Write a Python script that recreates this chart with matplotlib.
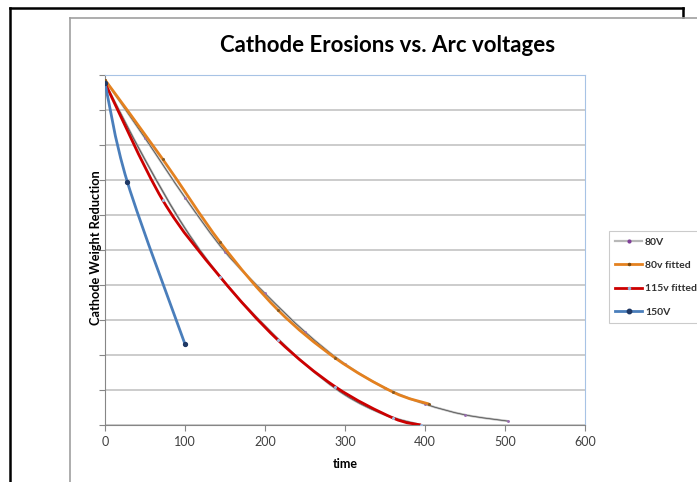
import matplotlib
matplotlib.use('Agg')
import matplotlib.pyplot as plt
from matplotlib.path import Path
from matplotlib.patches import PathPatch
from matplotlib.lines import Line2D

plt.rcParams['font.family'] = ['Lato', 'DejaVu Sans']

# ---- data ----
t_80 = [0, 50, 100, 150, 200, 250, 300, 350, 400, 450, 504]
v_80 = [9.86, 8.20, 6.50, 4.95, 3.76, 2.66, 1.74, 1.06, 0.60, 0.29, 0.11]

t_80fit = [0, 72, 144, 216, 288, 360, 405]
v_80fit = [9.86, 7.60, 5.22, 3.29, 1.91, 0.94, 0.60]

t_115 = [0, 50, 100, 150, 200, 250, 300, 350, 395]
v_115 = [9.77, 7.58, 5.62, 4.06, 2.83, 1.74, 0.86, 0.29, 0.0]

t_115fit = [0, 72, 144, 216, 288, 360, 395]
v_115fit = [9.77, 6.43, 4.23, 2.43, 1.09, 0.20, 0.0]

t_150 = [0, 28, 100]
v_150 = [9.77, 6.94, 2.31]

x_ticks = [0, 100, 200, 300, 400, 500, 600]
title = "Cathode Erosions vs. Arc voltages"
x_label = "time"
y_label = "Cathode Weight Reduction"
legend_labels = ["80V", "80v fitted", "115v fitted", "150V"]

W, H = 697, 482


def smooth_patch(xs, ys, **kw):
    """Excel-like smoothed line drawn as Bezier path through the data points."""
    pts = list(zip(xs, ys))
    n = len(pts)
    verts = [pts[0]]
    codes = [Path.MOVETO]
    for i in range(n - 1):
        p0 = pts[i - 1] if i > 0 else pts[i]
        p1 = pts[i]
        p2 = pts[i + 1]
        p3 = pts[i + 2] if i + 2 < n else pts[i + 1]
        c1 = (p1[0] + (p2[0] - p0[0]) / 6.0, p1[1] + (p2[1] - p0[1]) / 6.0)
        c2 = (p2[0] - (p3[0] - p1[0]) / 6.0, p2[1] - (p3[1] - p1[1]) / 6.0)
        verts += [c1, c2, p2]
        codes += [Path.CURVE4] * 3
    return PathPatch(Path(verts, codes), fill=False, **kw)


fig = plt.figure(figsize=(W / 100, H / 100), dpi=100)
fig.patch.set_facecolor('white')


def fline(x0, y0, x1, y1, **kw):
    fig.add_artist(Line2D([x0 / W, x1 / W], [1 - y0 / H, 1 - y1 / H],
                          transform=fig.transFigure, **kw))

# outer frames
fline(10, 8, 10, 482, color='black', lw=1.8)
fline(10, 8, 683, 8, color='black', lw=1.8)
fline(683, 8, 683, 17, color='black', lw=1.8)
fline(70, 18, 70, 482, color='#a0a0a0', lw=1.2)
fline(70, 18, 697, 18, color='#a0a0a0', lw=1.2)

ax = fig.add_axes([105 / W, 1 - 425 / H, 480 / W, 350 / H])
ax.set_xlim(0, 600)
ax.set_ylim(0, 10)
ax.set_xticks(x_ticks)
ax.set_yticks(range(0, 11))
ax.set_yticklabels([])
ax.grid(axis='y', color='#bfbfbf', lw=1.1)
ax.set_axisbelow(True)
ax.tick_params(axis='x', direction='out', length=4, color='#868686',
               labelsize=9, labelcolor='#404040', pad=4)
ax.tick_params(axis='y', direction='out', length=4, color='#868686')
for s in ['left', 'bottom']:
    ax.spines[s].set_color('#868686')
for s in ['top', 'right']:
    ax.spines[s].set_color('#a7c3e5')

# 115V data (gray, not in legend)
ax.add_patch(smooth_patch(t_115, v_115, edgecolor='#a6a6a6', lw=1.6, zorder=3))
ax.add_patch(smooth_patch(t_115, v_115, edgecolor='#404040', lw=0.45, zorder=3))
# 80V data
ax.add_patch(smooth_patch(t_80, v_80, edgecolor='#b8b8b8', lw=1.6, zorder=3))
ax.add_patch(smooth_patch(t_80, v_80, edgecolor='#404040', lw=0.45, zorder=3))
ax.plot(t_80, v_80, ls='none', marker='o', ms=1.1, color='#9a6fb0', zorder=4)
# fitted lines
ax.add_patch(smooth_patch(t_80fit, v_80fit, edgecolor='#e4811f', lw=2.0, zorder=5))
ax.plot(t_80fit, v_80fit, ls='none', marker='o', ms=1.2, color='#8a5a20', zorder=6)
ax.add_patch(smooth_patch(t_115fit, v_115fit, edgecolor='#cc0000', lw=2.0, zorder=5))
ax.plot(t_115fit, v_115fit, ls='none', marker='o', ms=1.2, color='#9fb8dc', zorder=6)
# 150V
ax.add_patch(smooth_patch(t_150, v_150, edgecolor='#4a7ebb', lw=2.0, zorder=7))
ax.plot(t_150, v_150, ls='none', marker='o', ms=2.8, color='#1f3864', zorder=8)

handles = [
    Line2D([], [], color='#b8b8b8', lw=1.6, marker='o', ms=2, mfc='#7f3f98', mec='#7f3f98'),
    Line2D([], [], color='#e4811f', lw=2.0, marker='o', ms=1.5, mfc='#7a4a10', mec='#7a4a10'),
    Line2D([], [], color='#cc0000', lw=2.0, marker='o', ms=1.5, mfc='#8fb0d8', mec='#8fb0d8'),
    Line2D([], [], color='#4a7ebb', lw=2.0, marker='o', ms=3.2, mfc='#1f3864', mec='#1f3864'),
]
leg = fig.legend(handles, legend_labels, loc='upper left',
                 bbox_to_anchor=(609 / W, 1 - 231 / H), frameon=True,
                 fancybox=False, edgecolor='#bfbfbf', fontsize=7.5,
                 handlelength=2.6, handletextpad=0.25, labelspacing=1.35,
                 borderpad=0.6, borderaxespad=0)
leg.get_frame().set_linewidth(0.8)
for txt in leg.get_texts():
    txt.set_fontweight('bold')
    txt.set_color('#303030')

fig.text(388 / W, 1 - 45 / H, title, ha='center', va='center',
         fontsize=16, fontweight='bold', color='black')
fig.text(345 / W, 1 - 464 / H, x_label, ha='center', va='center',
         fontsize=9, fontweight='bold', color='black')
fig.text(96 / W, 1 - 248 / H, y_label, ha='center', va='center', rotation=90,
         fontsize=9.2, fontweight='bold', color='black')

fig.savefig('out.png', dpi=100)
